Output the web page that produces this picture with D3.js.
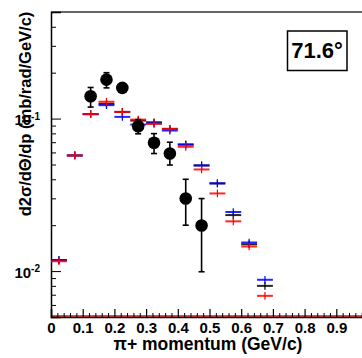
<!DOCTYPE html>
<html>
<head>
<meta charset="utf-8">
<script src="https://cdn.jsdelivr.net/npm/d3@7"></script>
<style>
  body { margin: 0; background: #fff; }
  svg { display: block; font-family: "Liberation Sans", Arial, Helvetica, sans-serif; font-weight: bold; }
</style>
</head>
<body>
<svg id="chart" width="362" height="358"></svg>
<script>
// bins of the MC histograms (GeV/c)
const binCenters = [0.025, 0.075, 0.125, 0.175, 0.225, 0.275, 0.325, 0.375, 0.425, 0.475, 0.525, 0.575, 0.625, 0.675];
const binWidth = 0.05;
const blackVals = [0.0118, 0.0573, 0.107, 0.125, 0.1106, 0.097, 0.0946, 0.0856, 0.0676, 0.0493, 0.0376, 0.0233, 0.0150, 0.0080];
const blueVals  = [0.0118, 0.0573, 0.107, 0.1225, 0.1026, 0.0914, 0.093, 0.0835, 0.0676, 0.0493, 0.0376, 0.0244, 0.0154, 0.00877];
const redVals   = [0.0116, 0.0573, 0.107, 0.129, 0.1106, 0.0985, 0.0923, 0.0856, 0.0653, 0.0464, 0.0323, 0.0212, 0.0145, 0.00688];
const mcRelErr = 0.06;

// measured points
const dataP  = [0.125, 0.175, 0.225, 0.275, 0.325, 0.375, 0.425, 0.475];
const dataV  = [0.14, 0.18, 0.159, 0.089, 0.0694, 0.059, 0.0299, 0.0199];
const dataLo = [0.119, 0.159, 0.150, 0.0795, 0.059, 0.0496, 0.020, 0.0099];
const dataHi = [0.16, 0.20, 0.168, 0.0985, 0.0797, 0.070, 0.040, 0.0299];

const xMajor = [0, 0.1, 0.2, 0.3, 0.4, 0.5, 0.6, 0.7, 0.8, 0.9, 1.0];
const xLabels = ["0", "0.1", "0.2", "0.3", "0.4", "0.5", "0.6", "0.7", "0.8", "0.9", ""];
const angleLabel = "71.6°";

const svg = d3.select("#chart");
const mLeft = 51, mTop = 12, mBottom = 317, mRight = 368;

const x = d3.scaleLinear().domain([0, 1]).range([mLeft, mRight]);
const y = d3.scaleLog().domain([0.005, 0.5]).range([mBottom, mTop]);

// frame
svg.append("line").attr("x1", mLeft).attr("x2", 362).attr("y1", mTop).attr("y2", mTop)
  .attr("stroke", "#333").attr("stroke-width", 1.5);

// red zero line along the bottom
svg.append("line").attr("x1", mLeft).attr("x2", 362).attr("y1", mBottom - 1).attr("y2", mBottom - 1)
  .attr("stroke", "red").attr("stroke-width", 1.5);

// x axis
const xMinor = d3.range(0, 51).map(i => i * 0.02).filter(v => xMajor.every(m => Math.abs(m - v) > 1e-6));
svg.append("g").attr("transform", `translate(0,${mBottom})`)
  .call(d3.axisBottom(x).tickValues(xMinor).tickSize(-4).tickFormat(""))
  .call(g => g.select(".domain").remove());
const gx = svg.append("g").attr("transform", `translate(0,${mBottom})`)
  .call(d3.axisBottom(x).tickValues(xMajor).tickSize(-8).tickPadding(5)
    .tickFormat((d, i) => xLabels[i]));
gx.select(".domain").attr("stroke-width", 1.5);
gx.selectAll(".tick line").attr("stroke-width", 1.2);
gx.selectAll(".tick text").attr("font-size", 15).attr("font-weight", "bold").attr("fill", "#000");

// y axis
const yAll = y.ticks();
const yMajor = yAll.filter(v => Math.abs(Math.log10(v) - Math.round(Math.log10(v))) < 1e-6);
const yMinor = yAll.filter(v => !yMajor.includes(v));
svg.append("g").attr("transform", `translate(${mLeft},0)`)
  .call(d3.axisLeft(y).tickValues(yMinor).tickSize(-5).tickFormat(""))
  .call(g => g.select(".domain").remove());
const gy = svg.append("g").attr("transform", `translate(${mLeft},0)`)
  .call(d3.axisLeft(y).tickValues(yMajor).tickSize(-10).tickPadding(11).tickFormat(""));
gy.select(".domain").attr("stroke-width", 1.5);
gy.selectAll(".tick text").each(function (d) {
  const t = d3.select(this).attr("font-size", 15).attr("fill", "#000").attr("dy", "0.4em");
  t.append("tspan").text("10");
  t.append("tspan").attr("font-size", 10).attr("dy", "-0.55em").text(Math.round(Math.log10(d)));
});

// MC histograms
const series = [
  { vals: blackVals, color: "#000" },
  { vals: blueVals, color: "#0000ff" },
  { vals: redVals, color: "#ff0000" }
];
series.forEach(s => {
  const g = svg.append("g").attr("stroke", s.color);
  binCenters.forEach((c, i) => {
    const v = s.vals[i];
    g.append("line").attr("x1", x(c - binWidth / 2)).attr("x2", x(c + binWidth / 2))
      .attr("y1", y(v)).attr("y2", y(v)).attr("stroke-width", 2).attr("stroke-opacity", 0.85);
    g.append("line").attr("x1", x(c)).attr("x2", x(c))
      .attr("y1", y(v * (1 + mcRelErr))).attr("y2", y(v / (1 + mcRelErr))).attr("stroke-width", 1.2);
  });
});

// data points with error bars
const gd = svg.append("g").attr("stroke", "#000").attr("stroke-width", 1.6);
dataP.forEach((p, i) => {
  gd.append("line").attr("x1", x(p)).attr("x2", x(p)).attr("y1", y(dataHi[i])).attr("y2", y(dataLo[i]));
  [dataHi[i], dataLo[i]].forEach(e =>
    gd.append("line").attr("x1", x(p) - 3).attr("x2", x(p) + 3).attr("y1", y(e)).attr("y2", y(e)));
  gd.append("circle").attr("cx", x(p)).attr("cy", y(dataV[i])).attr("r", 6.3).attr("fill", "#000").attr("stroke", "none");
});

// angle box
svg.append("rect").attr("x", 287.5).attr("y", 31).attr("width", 59.5).attr("height", 39.5)
  .attr("fill", "#fff").attr("stroke", "#000").attr("stroke-width", 1.5);
svg.append("text").attr("x", 317).attr("y", 58).attr("text-anchor", "middle")
  .attr("font-size", 22).text(angleLabel);

// axis titles
svg.append("text").attr("x", 208).attr("y", 350).attr("text-anchor", "middle")
  .attr("font-size", 17.5).text("π+ momentum (GeV/c)");
svg.append("text").attr("transform", "translate(31,114) rotate(-90)").attr("text-anchor", "middle")
  .attr("font-size", 16.5).text("d2σ/dΘ/dp (mb/rad/GeV/c)");
</script>
</body>
</html>
